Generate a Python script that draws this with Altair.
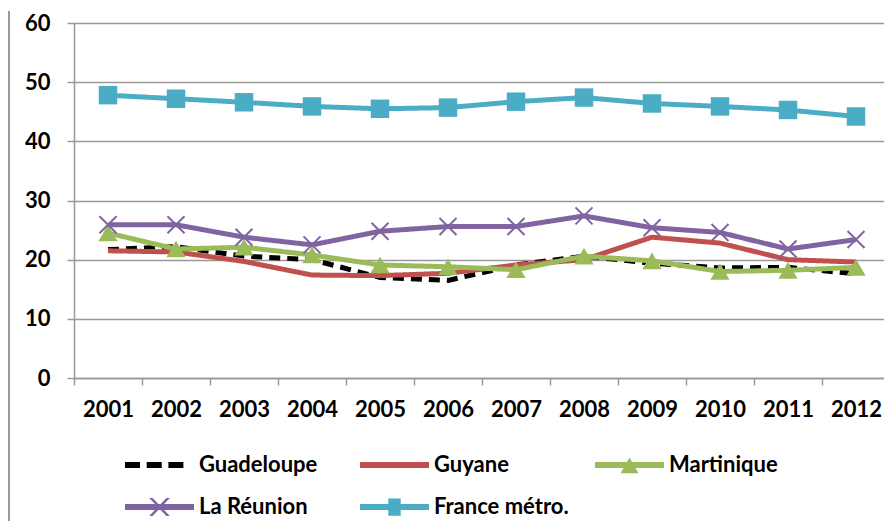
import altair as alt
import pandas as pd

years = [str(y) for y in range(2001, 2013)]
series = ["Guadeloupe", "Guyane", "Martinique", "La Réunion", "France métro."]
guadeloupe = [21.7, 22.2, 20.6, 20.0, 17.0, 16.5, 19.1, 20.6, 19.4, 18.6, 18.7, 17.6]
guyane = [21.5, 21.3, 19.7, 17.4, 17.3, 17.7, 19.1, 20.0, 23.8, 22.8, 20.0, 19.6]
martinique = [24.5, 21.8, 22.1, 20.8, 19.1, 18.8, 18.3, 20.6, 19.8, 18.0, 18.2, 18.7]
reunion = [25.9, 25.9, 23.8, 22.5, 24.8, 25.6, 25.6, 27.4, 25.4, 24.6, 21.8, 23.4]
france = [47.8, 47.2, 46.6, 45.9, 45.5, 45.7, 46.7, 47.4, 46.4, 45.9, 45.3, 44.2]
colors = ["#000000", "#C0504D", "#9BBB59", "#8064A2", "#4BACC6"]
y_ticks = [0, 10, 20, 30, 40, 50, 60]

values = [guadeloupe, guyane, martinique, reunion, france]
rows = []
for s, vals in zip(series, values):
    for yr, v in zip(years, vals):
        rows.append({"year": yr, "series": s, "value": v})
df = pd.DataFrame(rows)

# legend entries laid out in a 3-column grid, in series order
leg_df = pd.DataFrame({
    "series": series,
    "col": [i % 3 for i in range(len(series))],
    "row": [i // 3 for i in range(len(series))],
})

# legend symbols: line + marker as filled polygons (+-1 = half symbol width)
bar = "M-1,-0.085L1,-0.085L1,0.085L-1,0.085"
legend_paths = [
    "M-1,-0.085L-0.565,-0.085L-0.565,0.085L-1,0.085"
    "M-0.371,-0.085L0.064,-0.085L0.064,0.085L-0.371,0.085"
    "M0.258,-0.085L0.693,-0.085L0.693,0.085L0.258,0.085",
    bar,
    bar + "M0,-0.22L0.26,0.24L-0.26,0.24",
    bar + "M-0.3,-0.26L-0.2,-0.26L0.3,0.26L0.2,0.26M0.2,-0.26L0.3,-0.26L-0.2,0.26L-0.3,0.26",
    bar + "M-0.18,-0.25L0.18,-0.25L0.18,0.25L-0.18,0.25",
]

x_enc = alt.X(
    "year:O",
    sort=years,
    scale=alt.Scale(type="band", paddingInner=0, paddingOuter=0),
    axis=alt.Axis(title=None, labelAngle=0, tickBand="extent", tickSize=7,
                  labelPadding=14, grid=False),
)
y_enc = alt.Y(
    "value:Q",
    scale=alt.Scale(domain=[0, 60], nice=False, zero=True),
    axis=alt.Axis(title=None, values=y_ticks, tickSize=7, labelPadding=17, grid=True),
)
color_enc = alt.Color("series:N", scale=alt.Scale(domain=series, range=colors), legend=None)

lines = alt.Chart(df).mark_line(strokeWidth=5).encode(
    x=x_enc,
    y=y_enc,
    color=color_enc,
    strokeDash=alt.StrokeDash(
        "series:N",
        scale=alt.Scale(domain=series, range=[[11, 7], [1, 0], [1, 0], [1, 0], [1, 0]]),
        legend=None,
    ),
)

tri = alt.Chart(df).transform_filter(alt.datum.series == "Martinique").mark_point(
    shape="triangle-up", filled=True, size=370, opacity=1
).encode(x=x_enc, y=y_enc, color=color_enc)

cross = alt.Chart(df).transform_filter(alt.datum.series == "La Réunion").mark_point(
    shape="M-1,-1L1,1M-1,1L1,-1", filled=False, size=289, strokeWidth=2, opacity=1
).encode(x=x_enc, y=y_enc, color=color_enc)

sq = alt.Chart(df).transform_filter(alt.datum.series == "France métro.").mark_point(
    shape="square", filled=True, size=340, opacity=1
).encode(x=x_enc, y=y_enc, color=color_enc)

main = alt.layer(lines, tri, cross, sq)

leg_x = alt.X("col:O", scale=alt.Scale(type="point", domain=[0, 1, 2], range=[85.5, 555.5], padding=0), axis=None)
leg_y = alt.Y("row:O", scale=alt.Scale(type="point", domain=[0, 1], range=[442, 484], padding=0), axis=None)

leg_sym = alt.Chart(leg_df).mark_point(filled=True, size=4761, strokeWidth=0, opacity=1).encode(
    x=leg_x,
    y=leg_y,
    color=color_enc,
    shape=alt.Shape("series:N", scale=alt.Scale(domain=series, range=legend_paths), legend=None),
)
leg_txt = alt.Chart(leg_df).mark_text(
    align="left", baseline="middle", dx=39.5, font="Lato", fontSize=22,
    fontWeight="bold", color="#000000",
).encode(x=leg_x, y=leg_y, text="series:N")

legend = alt.layer(leg_sym, leg_txt)

border = alt.Chart(pd.DataFrame({"a": [0]})).mark_rule(color="#9a9a9a", strokeWidth=2).encode(
    x=alt.value(-65), y=alt.value(-12), y2=alt.value(506)
)

chart = alt.layer(border, main, legend).resolve_scale(
    x="independent", y="independent"
).properties(
    width=816, height=355,
    autosize=alt.AutoSizeParams(type="none"),
    padding={"left": 66, "top": 15, "right": -6, "bottom": 143},
).configure_view(stroke=None).configure_axis(
    labelFont="Lato", labelFontSize=22, labelFontWeight="bold", labelColor="#000000",
    domainColor="#999999", domainWidth=1.5, tickColor="#999999", tickWidth=1.5,
    gridColor="#999999", gridWidth=1.5,
)

chart.save("out.html", embed_options={"renderer": "svg", "actions": False})
